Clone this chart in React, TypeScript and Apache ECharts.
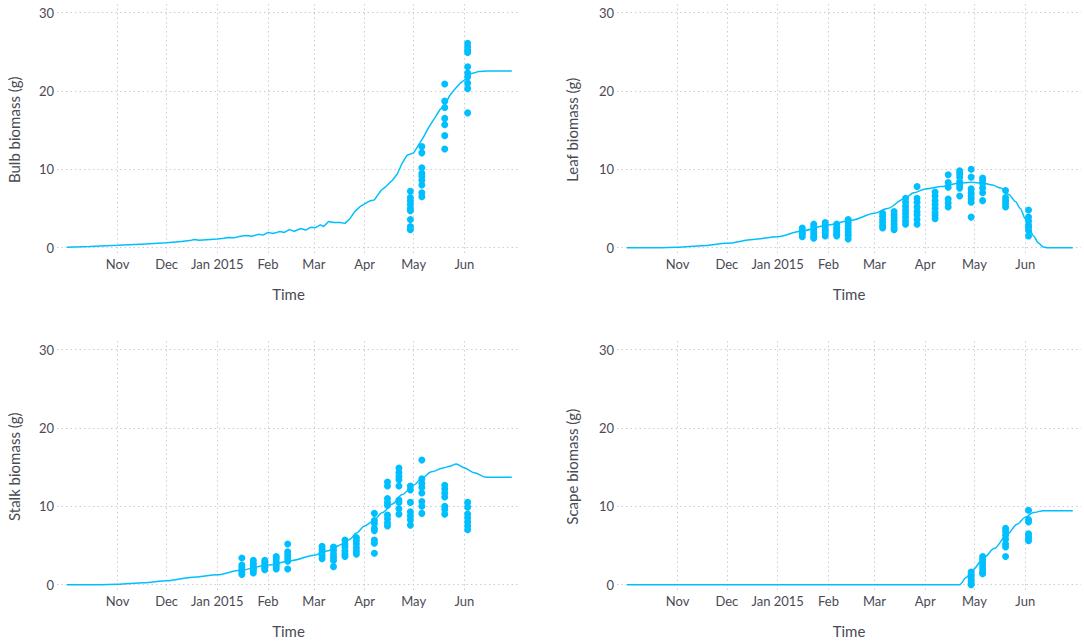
import React, { useEffect, useRef } from 'react';
import * as echarts from 'echarts';

// ---------- data ----------
const tickDates = ['2014-11-01', '2014-12-01', '2015-01-01', '2015-02-01', '2015-03-01', '2015-04-01', '2015-05-01', '2015-06-01'];
const tickLabels = ['Nov', 'Dec', 'Jan 2015', 'Feb', 'Mar', 'Apr', 'May', 'Jun'];
const yTicks = [0, 10, 20, 30];
const xMin = '2014-09-25';
const xMax = '2015-07-05';
const yMin = -1;
const yMax = 31.1;

const axisTitles = ['Bulb biomass (g)', 'Leaf biomass (g)', 'Stalk biomass (g)', 'Scape biomass (g)'];

const sampleDates = ['2015-01-16', '2015-01-23', '2015-01-30', '2015-02-06', '2015-02-13', '2015-03-06', '2015-03-13', '2015-03-20', '2015-03-27', '2015-04-07', '2015-04-15', '2015-04-22', '2015-04-29', '2015-05-06', '2015-05-20', '2015-06-03'];
const lateDates = ['2015-04-29', '2015-05-06', '2015-05-20', '2015-06-03'];

const bulbSim: [string, number][] = [
  ['2014-10-01', 0.05], ['2014-10-15', 0.15], ['2014-11-01', 0.3], ['2014-11-15', 0.45], ['2014-12-01', 0.62],
  ['2014-12-10', 0.8], ['2014-12-15', 0.9], ['2014-12-18', 1.05], ['2014-12-21', 0.95], ['2015-01-01', 1.12],
  ['2015-01-05', 1.2], ['2015-01-08', 1.3], ['2015-01-11', 1.25], ['2015-01-15', 1.45], ['2015-01-19', 1.55],
  ['2015-01-22', 1.45], ['2015-01-26', 1.7], ['2015-01-29', 1.6], ['2015-02-01', 1.95], ['2015-02-04', 1.8],
  ['2015-02-08', 2.05], ['2015-02-11', 1.95], ['2015-02-14', 2.3], ['2015-02-17', 2.1], ['2015-02-21', 2.45],
  ['2015-02-24', 2.25], ['2015-02-27', 2.6], ['2015-03-02', 2.55], ['2015-03-05', 2.9], ['2015-03-07', 2.7],
  ['2015-03-10', 3.35], ['2015-03-13', 3.2], ['2015-03-17', 3.2], ['2015-03-20', 3.1], ['2015-03-23', 3.7],
  ['2015-03-26', 4.6], ['2015-03-29', 5.2], ['2015-04-01', 5.6], ['2015-04-04', 5.95], ['2015-04-07', 6.1],
  ['2015-04-11', 7.3], ['2015-04-14', 7.8], ['2015-04-18', 8.6], ['2015-04-21', 9.4], ['2015-04-24', 10.8],
  ['2015-04-27', 11.8], ['2015-05-01', 12.1], ['2015-05-04', 13.1], ['2015-05-07', 14.1], ['2015-05-10', 15.3],
  ['2015-05-14', 16.6], ['2015-05-17', 17.6], ['2015-05-20', 18.2], ['2015-05-23', 19.4], ['2015-05-26', 20.2],
  ['2015-05-29', 20.9], ['2015-06-01', 21.4], ['2015-06-05', 22.2], ['2015-06-10', 22.5], ['2015-06-15', 22.55],
  ['2015-06-30', 22.55],
];
const leafSim: [string, number][] = [
  ['2014-10-01', 0], ['2014-10-20', 0], ['2014-11-01', 0.05], ['2014-11-16', 0.25], ['2014-12-01', 0.55],
  ['2014-12-17', 1.05], ['2015-01-01', 1.4], ['2015-01-15', 2.1], ['2015-02-01', 2.9], ['2015-02-15', 3.5],
  ['2015-03-01', 4.4], ['2015-03-09', 5.0], ['2015-03-19', 6.2], ['2015-03-25', 7.0], ['2015-04-01', 7.5],
  ['2015-04-11', 7.8], ['2015-04-22', 8.25], ['2015-04-29', 8.35], ['2015-05-06', 8.25], ['2015-05-12', 8.0],
  ['2015-05-17', 7.6], ['2015-05-22', 6.8], ['2015-05-26', 5.9], ['2015-05-29', 5.0], ['2015-06-01', 3.7],
  ['2015-06-03', 2.7], ['2015-06-06', 1.5], ['2015-06-09', 0.6], ['2015-06-12', 0.1], ['2015-06-14', 0],
  ['2015-06-30', 0],
];
const stalkSim: [string, number][] = [
  ['2014-10-01', 0], ['2014-10-20', 0], ['2014-11-01', 0.05], ['2014-11-17', 0.25], ['2014-12-01', 0.5],
  ['2014-12-17', 0.95], ['2015-01-01', 1.25], ['2015-01-15', 1.85], ['2015-02-01', 2.5], ['2015-02-16', 3.1],
  ['2015-03-01', 3.75], ['2015-03-09', 4.3], ['2015-03-19', 5.2], ['2015-03-23', 5.8], ['2015-03-27', 6.6],
  ['2015-04-01', 7.5], ['2015-04-06', 8.1], ['2015-04-12', 9.2], ['2015-04-18', 10.3], ['2015-04-24', 11.5],
  ['2015-05-01', 12.7], ['2015-05-06', 13.6], ['2015-05-12', 14.4], ['2015-05-19', 14.9], ['2015-05-23', 15.1],
  ['2015-05-27', 15.4], ['2015-06-01', 14.9], ['2015-06-07', 14.3], ['2015-06-14', 13.7], ['2015-06-30', 13.7],
];
const scapeSim: [string, number][] = [
  ['2014-10-01', 0], ['2015-04-22', 0], ['2015-04-26', 0.9], ['2015-04-30', 1.9], ['2015-05-07', 3.5],
  ['2015-05-13', 4.6], ['2015-05-21', 6.4], ['2015-05-27', 7.7], ['2015-06-01', 8.6], ['2015-06-06', 9.2],
  ['2015-06-12', 9.45], ['2015-06-30', 9.45],
];

const bulbObs: number[][] = [
  [7.2, 6.4, 6.0, 5.5, 5.0, 4.7, 3.6, 2.7, 2.3],
  [12.9, 12.1, 10.2, 9.5, 9.1, 8.6, 8.0, 7.0, 6.5],
  [20.9, 18.7, 17.9, 16.5, 15.7, 14.3, 12.6],
  [26.1, 25.6, 25.2, 24.9, 23.1, 22.3, 21.8, 21.0, 20.3, 17.2],
];
const leafObs: number[][] = [
  [2.5, 2.2, 1.9, 1.7, 1.4],
  [3.0, 2.7, 2.3, 2.0, 1.7, 1.4, 1.2],
  [3.2, 2.9, 2.5, 2.2, 1.9, 1.5],
  [3.0, 2.6, 2.3, 2.0, 1.7, 1.5],
  [3.6, 3.2, 2.8, 2.4, 2.0, 1.6, 1.1],
  [4.4, 4.0, 3.6, 3.2, 2.8, 2.5],
  [4.6, 4.2, 3.8, 3.4, 3.0, 2.6, 2.3],
  [6.3, 5.8, 5.3, 4.8, 4.4, 3.9, 3.4, 3.0],
  [7.8, 6.3, 5.8, 5.2, 4.6, 4.2, 3.6, 3.0],
  [7.1, 6.6, 6.0, 5.5, 5.0, 4.5, 4.1, 3.7],
  [9.3, 8.3, 7.7, 6.2, 5.7, 5.2],
  [9.8, 9.4, 9.0, 8.4, 8.0, 7.6, 6.6],
  [10.0, 9.0, 7.5, 7.0, 6.6, 6.2, 5.8, 3.9],
  [8.9, 8.6, 8.2, 7.6, 7.0, 6.0],
  [7.3, 6.4, 6.0, 5.6, 5.2],
  [4.8, 3.9, 3.4, 2.9, 2.6, 2.2, 1.5],
];
const stalkObs: number[][] = [
  [3.4, 2.5, 2.2, 1.9, 1.6, 1.3],
  [3.1, 2.7, 2.4, 2.1, 1.8, 1.5],
  [3.1, 2.8, 2.5, 2.2, 1.9],
  [3.6, 3.3, 2.9, 2.6, 2.3, 2.0],
  [5.2, 4.2, 3.8, 3.4, 3.0, 2.0],
  [4.9, 4.5, 4.1, 3.7, 3.3],
  [4.8, 4.4, 3.9, 3.5, 3.1, 2.3],
  [5.7, 5.2, 4.8, 4.3, 3.9, 3.6],
  [6.0, 5.6, 5.2, 4.7, 4.3, 3.9],
  [9.1, 8.2, 7.8, 7.2, 6.9, 5.7, 5.3, 4.0],
  [13.1, 12.6, 11.0, 10.5, 10.1, 8.9, 8.4, 7.9, 7.5],
  [14.9, 14.3, 13.8, 13.4, 12.6, 10.8, 10.5, 9.7, 9.0],
  [12.6, 12.1, 10.5, 9.3, 8.8, 8.3, 7.6],
  [15.9, 13.5, 12.9, 12.4, 11.7, 10.6, 10.0, 9.1],
  [12.7, 12.2, 11.7, 11.2, 10.0, 9.6, 9.0],
  [10.5, 9.9, 9.0, 8.5, 8.0, 7.5, 7.0],
];
const scapeObs: number[][] = [
  [1.6, 1.3, 1.0, 0.7, 0.4, 0.1, 0.0],
  [3.6, 3.2, 2.8, 2.4, 2.0, 1.6, 1.4],
  [7.2, 6.8, 6.3, 5.8, 5.2, 4.8, 3.6],
  [9.5, 8.3, 8.0, 6.5, 6.2, 5.9, 5.6],
];

// ---------- helpers ----------
const ts = (s: string) => {
  const [y, m, d] = s.split('-').map(Number);
  return Date.UTC(y, m - 1, d);
};

const BLUE = '#00BFFF';
const GRID_COLOR = '#cbcbda';
const TEXT = '#4a4a55';
const FONT = 'Lato, "Noto Sans", sans-serif';

const panelData = [
  { sim: bulbSim, dates: lateDates, obs: bulbObs, smooth: false },
  { sim: leafSim, dates: sampleDates, obs: leafObs, smooth: 0.3 },
  { sim: stalkSim, dates: sampleDates, obs: stalkObs, smooth: 0.3 },
  { sim: scapeSim, dates: lateDates, obs: scapeObs, smooth: 0.3 },
];

const layout = [
  { left: 57, top: 4, width: 463, nameGap: 36 },
  { left: 617, top: 4, width: 464, nameGap: 38 },
  { left: 57, top: 341, width: 463, nameGap: 36 },
  { left: 617, top: 341, width: 464, nameGap: 38 },
];
const GRID_H = 251.5;

export default function App() {
  const ref = useRef<HTMLDivElement>(null);

  useEffect(() => {
    if (!ref.current) return;
    const chart = echarts.init(ref.current, undefined, { renderer: 'svg' });
    const tickTs = tickDates.map(ts);

    const grids = layout.map((l) => ({ left: l.left, top: l.top, width: l.width, height: GRID_H, containLabel: false }));

    const xAxes = layout.map((_, i) => ({
      type: 'value',
      gridIndex: i,
      min: ts(xMin),
      max: ts(xMax),
      axisLine: { show: false },
      axisTick: { show: false, customValues: tickTs },
      axisLabel: {
        customValues: tickTs,
        color: TEXT,
        fontSize: 13,
        fontFamily: FONT,
        margin: 2,
        hideOverlap: false,
        formatter: (v: number) => {
          const idx = tickTs.findIndex((t) => Math.abs(t - v) < 43200000);
          return idx >= 0 ? tickLabels[idx] : '';
        },
      },
      splitLine: { show: true, lineStyle: { color: GRID_COLOR, type: [1.5, 3], width: 1 } },
      name: 'Time',
      nameLocation: 'middle',
      nameGap: 31,
      nameTextStyle: { color: TEXT, fontSize: 15, fontFamily: FONT },
    }));

    const yAxes = layout.map((l, i) => ({
      type: 'value',
      gridIndex: i,
      min: yMin,
      max: yMax,
      axisLine: { show: false },
      axisTick: { show: false, customValues: yTicks },
      axisLabel: { customValues: yTicks, color: TEXT, fontSize: 13, fontFamily: FONT, margin: 3 },
      splitLine: { show: true, lineStyle: { color: GRID_COLOR, type: [1.5, 3], width: 1 } },
      name: axisTitles[i],
      nameLocation: 'middle',
      nameGap: l.nameGap,
      nameTextStyle: { color: TEXT, fontSize: 15, fontFamily: FONT },
    }));

    const series: any[] = [];
    panelData.forEach((p, i) => {
      series.push({
        type: 'line',
        xAxisIndex: i,
        yAxisIndex: i,
        data: p.sim.map(([d, v]) => [ts(d), v]),
        showSymbol: false,
        smooth: p.smooth,
        smoothMonotone: 'x',
        lineStyle: { color: BLUE, width: 1.5 },
        itemStyle: { color: BLUE },
        z: 2,
      });
      const pts: [number, number][] = [];
      p.dates.forEach((d, j) => p.obs[j].forEach((v) => pts.push([ts(d), v])));
      series.push({
        type: 'scatter',
        xAxisIndex: i,
        yAxisIndex: i,
        data: pts,
        symbolSize: 7,
        itemStyle: { color: BLUE, opacity: 1 },
        clip: false,
        z: 3,
      });
    });

    chart.setOption({
      animation: false,
      backgroundColor: '#ffffff',
      textStyle: { fontFamily: FONT },
      grid: grids,
      xAxis: xAxes,
      yAxis: yAxes,
      series,
    });

    return () => chart.dispose();
  }, []);

  return (
    <div
      ref={ref}
      style={{ position: 'fixed', left: 0, top: 0, width: 1084, height: 641, background: '#fff' }}
    />
  );
}
